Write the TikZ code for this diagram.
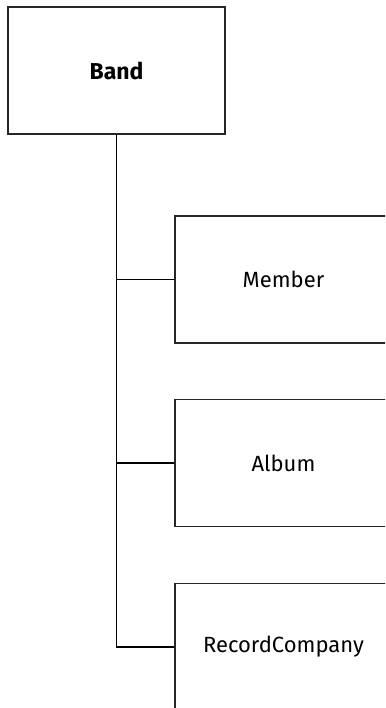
\documentclass[tikz,border=0pt]{standalone}
\usepackage{fontspec}
\setmainfont{Fira Sans}
\usetikzlibrary{positioning}

\tikzset{
	entity/.style={draw=black!85, line width=1.3pt, fill=white,
		minimum width=217pt, minimum height=127pt, font=\fontsize{22}{24}\selectfont},
	link/.style={line width=1.1pt, black}
}

\begin{document}
\begin{tikzpicture}[x=1pt, y=-1pt]
\clip (0,0) rectangle (385,708);
\useasboundingbox (0,0) rectangle (385,708);

\node[entity, font=\fontsize{23}{25}\selectfont\bfseries] (band) at (116.5,70.5) {Band};
\node[entity] (member) at (283.5,279.5) {Member};
\node[entity] (album) at (283.5,463) {Album};
\node[entity] (company) at (283.5,647) {RecordCompany};

\draw[link] (band.south) |- (member.west);
\draw[link] (band.south) |- (album.west);
\draw[link] (band.south) |- (company.west);

\end{tikzpicture}
\end{document}
